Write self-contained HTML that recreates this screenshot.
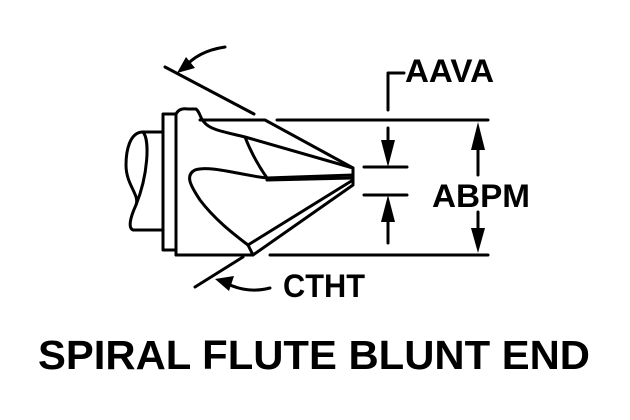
<!DOCTYPE html>
<html><head><style>body{margin:0;background:#fff}svg{display:block}</style></head><body>
<svg width="630" height="420" viewBox="0 0 630 420" xmlns="http://www.w3.org/2000/svg">
<g fill="none" stroke="#000" stroke-width="3" stroke-linejoin="round" stroke-linecap="round">
<path d="M162,132 L143,132 C130,132 126,150 126,165 C126,185 140,195 136,205 C130,218 128,228 133,230 L162,230"/>
<path d="M143,132 C150,140 148,175 136,205"/>
<rect x="163" y="114" width="13" height="136"/>
<path d="M176,255 L253,255 L353,185 L353,168 L265,120 L200,120"/>
<path d="M176,255 L176,114 C178,110 182,108 188,109 L196,109 C200,112 200,118 204,122 C210,130 225,132 245,137 L353,168"/>
<path d="M245,137 C250,150 258,165 267,178"/>
<path d="M267,178 L353,175"/>
<path d="M267,180 L353,178"/>
<path d="M353,180 L248,245"/>
<path d="M248,245 L253,255"/>
<path d="M267,178 C240,175 210,165 195,170 C185,175 190,185 200,200 C215,220 235,235 248,245"/>
<path d="M165,67 L254,114"/>
<path d="M195,287 L243,257"/>
<path d="M277,120 L488,120"/>
<path d="M270,255 L488,255"/>
<path d="M364,167 L407,167 M364,195 L407,195"/>
<path d="M388,110 L388,73 L404,73"/>
<path d="M388,128 L388,145 M388,218 L388,243"/>
<path d="M478,145 L478,175 M478,212 L478,232"/>
<path d="M225,47 C205,50 192,58 184,68"/>
<path d="M270,288 C255,292 240,290 228,284"/>
</g>
<g fill="#000">
<polygon points="381,140 395,140 388,167"/>
<polygon points="381,222 395,222 388,195"/>
<polygon points="471,150 485,150 478,122"/>
<polygon points="471,228 485,228 478,253"/>
<polygon points="177,73 186,57 195,68"/>
<polygon points="215,279 234,276 229,291"/>
</g>
<g font-family="Liberation Sans, Arial, sans-serif" font-weight="bold" fill="#000">
<text x="405" y="82" font-size="32" textLength="89" lengthAdjust="spacingAndGlyphs">AAVA</text>
<text x="432" y="207" font-size="32" textLength="98" lengthAdjust="spacingAndGlyphs">ABPM</text>
<text x="283" y="297" font-size="32" textLength="82" lengthAdjust="spacingAndGlyphs">CTHT</text>
<text x="38" y="369" font-size="41" textLength="552" lengthAdjust="spacingAndGlyphs">SPIRAL FLUTE BLUNT END</text>
</g>
</svg>
</body></html>
